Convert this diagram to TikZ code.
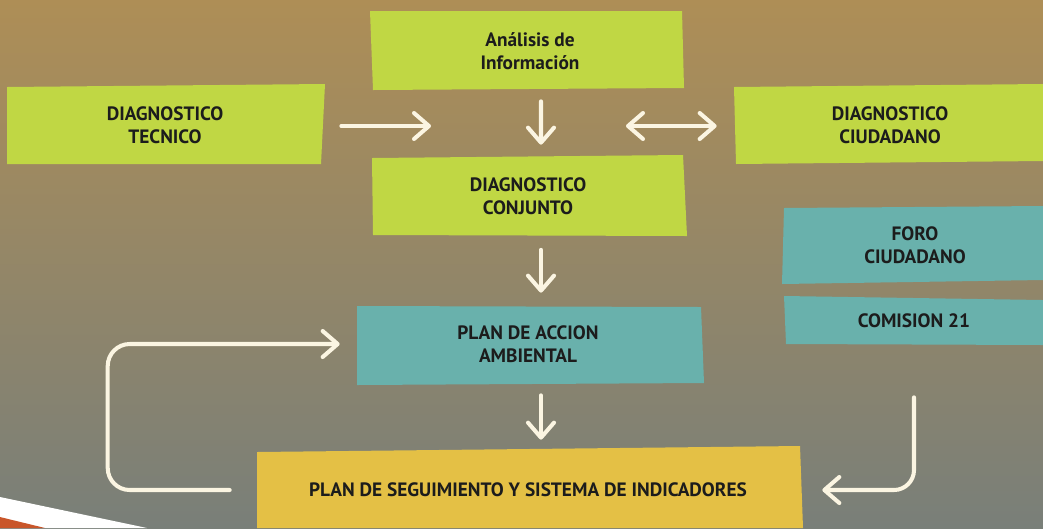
\documentclass[tikz,border=0pt]{standalone}
\usepackage{fontspec}
\setmainfont{PT Sans}
\usetikzlibrary{arrows.meta}
\definecolor{bgtop}{HTML}{AE8E56}
\definecolor{bgmid}{HTML}{968A68}
\definecolor{bgbot}{HTML}{797F79}
\definecolor{lime}{HTML}{C0D744}
\definecolor{teal}{HTML}{69B1AC}
\definecolor{mustard}{HTML}{E4C045}
\definecolor{ink}{HTML}{1C1C1C}
\definecolor{cream}{HTML}{FBF5E2}
\definecolor{rust}{HTML}{C9562A}
\begin{document}
\begin{tikzpicture}[x=0.02cm, y=-0.02cm,
    box/.style={text=ink, align=center, inner sep=0pt,
      font=\fontsize{11}{13}\selectfont\bfseries},
    arr/.style={draw=cream, line width=2.3pt, line cap=round,
      -{Straight Barb[length=0.3cm, width=0.52cm, round]}}]
  \useasboundingbox (0,0) rectangle (1043,528);
  \shade[top color=bgtop, middle color=bgmid, bottom color=bgbot] (0,0) rectangle (1043,528);
  \fill[white] (0,497) -- (147,528) -- (0,528) -- cycle;
  \fill[rust] (0,517) -- (45,528) -- (0,528) -- cycle;

  \fill[lime] (370,11) -- (682,11) -- (684,88) -- (373,90) -- cycle;
  \fill[lime] (7,87) -- (325,84) -- (321,164) -- (7,164) -- cycle;
  \fill[lime] (372,158) -- (683,155) -- (687,236) -- (373,235) -- cycle;
  \fill[lime] (734,87) -- (1043,84) -- (1043,161) -- (736,164) -- cycle;
  \fill[teal] (784,208) -- (1043,206) -- (1043,280) -- (782,284) -- cycle;
  \fill[teal] (784,296) -- (1043,300) -- (1043,345) -- (786,344) -- cycle;
  \fill[teal] (357,306) -- (701,307) -- (704,383) -- (357,385) -- cycle;
  \fill[mustard] (257,452) -- (800,446) -- (803,528) -- (257,528) -- cycle;

  \node[box, minimum width=6.24cm, minimum height=1.56cm] (ana) at (530,51) {Análisis de\\Información};
  \node[box, minimum width=6.32cm, minimum height=1.56cm] (tec) at (165,125) {DIAGNOSTICO\\TECNICO};
  \node[box, minimum width=6.26cm, minimum height=1.58cm] (conj) at (528,196) {DIAGNOSTICO\\CONJUNTO};
  \node[box, minimum width=6.16cm, minimum height=1.56cm] (ciu) at (890,125) {DIAGNOSTICO\\CIUDADANO};
  \node[box, minimum width=5.2cm, minimum height=1.5cm] (foro) at (915,245) {FORO\\CIUDADANO};
  \node[box, minimum width=5.16cm, minimum height=0.92cm] (com) at (914,321) {COMISION 21};
  \node[box, minimum width=6.9cm, minimum height=1.56cm] (pac) at (528,344) {PLAN DE ACCION\\AMBIENTAL};
  \node[box, minimum width=10.92cm, minimum height=1.6cm] (seg) at (528,490) {PLAN DE SEGUIMIENTO Y SISTEMA DE INDICADORES};

  \coordinate (tin) at (431,126);
  \coordinate (cin) at (626,126);

  \draw[arr, shorten <=0.36cm] ([yshift=-0.02cm]tec.east) -- (tin);
  \draw[arr, {Straight Barb[length=0.3cm, width=0.52cm, round]}-{Straight Barb[length=0.3cm, width=0.52cm, round]}, shorten >=0.38cm] (cin) -- ([yshift=-0.02cm]ciu.west);
  \draw[arr, shorten <=0.22cm, shorten >=0.23cm] ([xshift=.22cm]ana.south) -- ([xshift=.26cm]conj.north);
  \draw[arr, shorten <=0.28cm, shorten >=0.24cm] ([xshift=.26cm]conj.south) -- ([xshift=.26cm]pac.north);
  \draw[arr, shorten <=0.24cm, shorten >=0.2cm] ([xshift=.26cm]pac.south) -- ([xshift=.26cm]seg.north);
  \draw[arr, rounded corners=0.44cm] ([xshift=-0.5cm]seg.west) -- ++(-122,0) |- ([xshift=-0.31cm]pac.west);
  \draw[arr, rounded corners=0.4cm] ([yshift=-1.06cm]com.south) |- ([xshift=0.42cm]seg.east);
\end{tikzpicture}
\end{document}
